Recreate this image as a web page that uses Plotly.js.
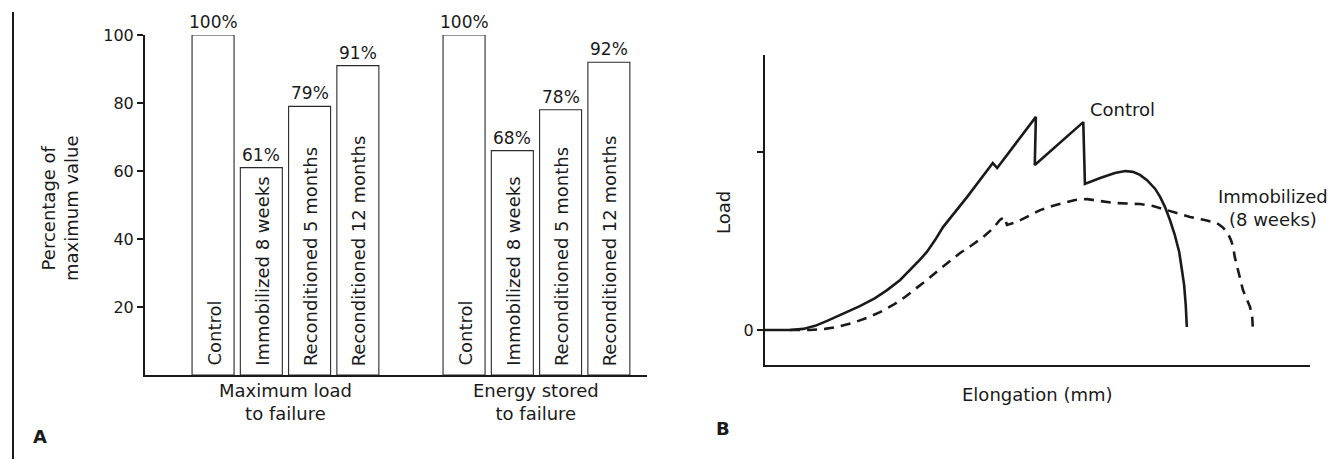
<!DOCTYPE html>
<html>
<head>
<meta charset="utf-8">
<script src="https://cdn.plot.ly/plotly-3.0.1.min.js"></script>
<style>html,body{margin:0;padding:0;background:#fff;} #chart{width:1334px;height:459px;}</style>
</head>
<body>
<div id="chart"></div>
<script>
// ---- Data (panel A) ----
const categories = ["Control", "Immobilized 8 weeks", "Reconditioned 5 months", "Reconditioned 12 months"];
const groupNames = ["Maximum load<br>to failure", "Energy stored<br>to failure"];
const maxLoadValues = [100, 61, 79, 91];
const energyValues = [100, 66, 78, 92];
const maxLoadLabels = ["100%", "61%", "79%", "91%"];
const energyLabels = ["100%", "68%", "78%", "92%"];
const yTickValues = [20, 40, 60, 80, 100];

// ---- Data (panel B), arbitrary units ----
const controlElongation = [0, 4.6, 7.0, 9.2, 11.4, 14.7, 17.4, 20.2, 22.4, 24.8, 26.6, 28.4, 29.7, 31.2, 32.7, 37.1, 41.8, 42.6, 49.7, 49.5, 58.4, 58.7, 61.5, 64.2, 66.1, 67.5, 68.8, 70.1, 71.6, 72.5, 73.4, 74.3, 75.2, 76.0, 76.5, 76.9, 77.2, 77.4];
const controlLoad = [0, 0, 0.4, 1.5, 3.3, 6.2, 8.7, 11.6, 14.5, 18.2, 21.8, 25.5, 28.4, 32.7, 37.5, 48.4, 60.7, 58.9, 77.5, 60.0, 75.6, 53.1, 55.3, 57.1, 57.8, 57.5, 56.4, 54.5, 51.3, 48.4, 44.7, 40.0, 34.5, 28.4, 21.8, 16.4, 9.1, 1.1];
const immobElongation = [4.6, 8.3, 11.0, 13.2, 16.0, 18.7, 21.1, 23.5, 25.7, 27.9, 29.9, 32.1, 33.9, 35.8, 38.0, 40.0, 41.7, 43.1, 43.9, 44.4, 46.2, 48.3, 50.5, 52.7, 54.7, 56.9, 59.1, 61.5, 63.9, 66.4, 68.8, 71.2, 73.8, 76.1, 78.0, 80.7, 82.9, 83.9, 84.8, 85.5, 85.9, 86.2, 86.6, 87.2, 87.7, 88.4, 89.0, 89.4, 89.5];
const immobLoad = [0, 0, 0.4, 1.1, 2.5, 4.4, 6.5, 9.1, 12.0, 15.3, 18.5, 22.2, 25.1, 28.0, 30.9, 33.8, 36.7, 40.0, 41.1, 38.2, 39.3, 41.5, 43.6, 45.1, 46.2, 47.3, 47.6, 46.9, 46.2, 46.0, 45.8, 45.1, 43.6, 42.2, 41.1, 40.0, 38.9, 37.5, 35.6, 32.7, 30.2, 26.5, 22.9, 18.5, 14.5, 10.9, 8.4, 4.7, 1.1];
const loadTickValues = [0, 64.7];
const loadTickText = ["0", ""];

const FONT = "DejaVu Sans";
const INK = "#1a1a1a";
const GROUP_STEP = 5.2;
const W = 1334, H = 459;
const px = v => v / W;
const py = v => 1 - v / H;

const xPos = g => categories.map((c, i) => g * GROUP_STEP + i);

const barStyle = {
  type: "bar",
  width: 0.87,
  marker: {color: "#ffffff", line: {color: "#2a2a2a", width: 1.1}},
  hoverinfo: "skip",
  showlegend: false,
  xaxis: "x", yaxis: "y"
};

const traces = [
  Object.assign({}, barStyle, {x: xPos(0), y: maxLoadValues}),
  Object.assign({}, barStyle, {x: xPos(1), y: energyValues}),
  {type: "scatter", mode: "lines", x: controlElongation, y: controlLoad,
   line: {color: INK, width: 2.6}, xaxis: "x2", yaxis: "y2", showlegend: false, hoverinfo: "skip"},
  {type: "scatter", mode: "lines", x: immobElongation, y: immobLoad,
   line: {color: INK, width: 2.6, dash: "10px,7px"}, xaxis: "x2", yaxis: "y2", showlegend: false, hoverinfo: "skip"}
];

const annotations = [];
[[maxLoadValues, maxLoadLabels, 0], [energyValues, energyLabels, 1]].forEach(([vals, labs, g]) => {
  vals.forEach((v, i) => {
    annotations.push({
      xref: "x", yref: "y", x: xPos(g)[i], y: v, text: labs[i], showarrow: false,
      yanchor: "bottom", yshift: 1, font: {family: FONT, size: 17, color: INK}
    });
    annotations.push({
      xref: "x", yref: "y", x: xPos(g)[i], y: 0, text: categories[i], showarrow: false,
      textangle: -90, xanchor: "center", yanchor: "bottom", yshift: 7, xshift: 1,
      font: {family: FONT, size: 18, color: INK}
    });
  });
});
groupNames.forEach((name, g) => {
  const xs = xPos(g);
  annotations.push({
    xref: "x", yref: "paper", x: (xs[0] + xs[xs.length - 1]) / 2, y: py(378), yanchor: "top",
    text: name, showarrow: false, font: {family: FONT, size: 18, color: INK}
  });
});
annotations.push(
  {xref: "paper", yref: "paper", x: px(60), y: py(208), text: "Percentage of<br>maximum value", textangle: -90,
   showarrow: false, xanchor: "center", yanchor: "middle", font: {family: FONT, size: 18, color: INK}},
  {xref: "paper", yref: "paper", x: px(40), y: py(436), text: "<b>A</b>", showarrow: false,
   xanchor: "center", yanchor: "middle", font: {family: FONT, size: 18, color: INK}},
  {xref: "paper", yref: "paper", x: px(723), y: py(213), text: "Load", textangle: -90, showarrow: false,
   xanchor: "center", yanchor: "middle", font: {family: FONT, size: 18, color: INK}},
  {xref: "paper", yref: "paper", x: px(1037), y: py(394), text: "Elongation (mm)", showarrow: false,
   xanchor: "center", yanchor: "middle", font: {family: FONT, size: 18, color: INK}},
  {xref: "paper", yref: "paper", x: px(723), y: py(428), text: "<b>B</b>", showarrow: false,
   xanchor: "center", yanchor: "middle", font: {family: FONT, size: 18, color: INK}},
  {xref: "x2", yref: "y2", x: 59.3, y: 80, text: "Control", showarrow: false, xanchor: "left", yanchor: "middle",
   font: {family: FONT, size: 18, color: INK}},
  {xref: "x2", yref: "y2", x: 93.2, y: 44.4, text: "Immobilized<br>(8 weeks)", showarrow: false,
   xanchor: "center", yanchor: "middle", font: {family: FONT, size: 18, color: INK}}
);

const layout = {
  width: W, height: H,
  margin: {l: 0, r: 0, t: 0, b: 0},
  paper_bgcolor: "#ffffff", plot_bgcolor: "#ffffff",
  font: {family: FONT, color: INK},
  showlegend: false,
  bargap: 0,
  xaxis: {domain: [px(145), px(647)], range: [-1.41, 8.99], showgrid: false, zeroline: false,
          showline: true, linecolor: INK, linewidth: 2, showticklabels: false, ticks: "", fixedrange: true},
  yaxis: {domain: [py(375), py(35)], range: [0, 100], showgrid: false, zeroline: false,
          showline: true, linecolor: INK, linewidth: 2, ticks: "outside", ticklen: 6, tickwidth: 1.5, tickcolor: INK,
          tickvals: yTickValues, tickfont: {family: FONT, size: 16, color: INK}, fixedrange: true},
  xaxis2: {domain: [px(765), px(1310)], range: [0, 100], anchor: "y2", showgrid: false, zeroline: false,
           showline: true, linecolor: INK, linewidth: 2, showticklabels: false, ticks: "", fixedrange: true},
  yaxis2: {domain: [py(365), py(55)], range: [-12.73, 100], anchor: "x2", showgrid: false, zeroline: false,
           showline: true, linecolor: INK, linewidth: 2, ticks: "outside", ticklen: 6, tickwidth: 1.5, tickcolor: INK,
           tickvals: loadTickValues, ticktext: loadTickText, tickfont: {family: FONT, size: 16, color: INK}, fixedrange: true},
  shapes: [
    {type: "line", xref: "paper", yref: "paper", x0: px(13), x1: px(13), y0: py(12), y1: 0,
     line: {color: INK, width: 2}}
  ],
  annotations: annotations
};

Plotly.newPlot("chart", traces, layout, {displayModeBar: false, staticPlot: true});
</script>
</body>
</html>
